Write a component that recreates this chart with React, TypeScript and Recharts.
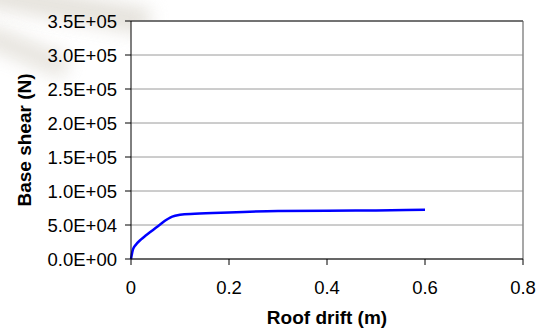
import { LineChart, Line, XAxis, YAxis, CartesianGrid, ReferenceLine, Label } from 'recharts';

// roof drift (m) vs base shear (N)
const drift = [0, 0.004, 0.01, 0.02, 0.03, 0.04, 0.05, 0.06, 0.07, 0.08, 0.09, 0.1, 0.13, 0.2, 0.3, 0.4, 0.5, 0.6];
const shear = [0, 14000, 21000, 28500, 34500, 40000, 45500, 51000, 56500, 61000, 63500, 65000, 66500, 68500, 70500, 71000, 71500, 72300];

const xTicks = [0, 0.2, 0.4, 0.6, 0.8];
const yTicks = [0, 50000, 100000, 150000, 200000, 250000, 300000, 350000];

const data = drift.map((d, i) => ({ drift: d, shear: shear[i] }));

const fmtSci = (v: number) => {
  if (v === 0) return '0.0E+00';
  const e = Math.floor(Math.log10(v));
  const m = v / Math.pow(10, e);
  return `${m.toFixed(1)}E+${String(e).padStart(2, '0')}`;
};

const font = '"Liberation Sans", Arial, sans-serif';

export default function App() {
  return (
    <div style={{ position: 'absolute', left: 0, top: 0, width: 543, height: 329, background: '#fff', overflow: 'hidden' }}>
      {/* faint watermark in the top-left corner */}
      <div style={{ position: 'absolute', left: -20, top: -6, width: 170, height: 26, background: '#dedad2', filter: 'blur(9px)', transform: 'rotate(10deg)', opacity: 0.8 }} />
      <div style={{ position: 'absolute', left: -20, top: 40, width: 90, height: 22, background: '#dedad2', filter: 'blur(9px)', transform: 'rotate(22deg)', opacity: 0.75 }} />
      <LineChart
        width={543}
        height={329}
        data={data}
        margin={{ top: 21, right: 20, left: 0, bottom: 0 }}
        style={{ position: 'absolute', left: 0, top: 0, fontFamily: font }}
      >
        <CartesianGrid vertical={false} stroke="#9a9a9a" fill="#fff" fillOpacity={1} />
        <ReferenceLine x={0.8} stroke="#8a8a8a" strokeWidth={1.5} />
        <ReferenceLine y={350000} stroke="#555" strokeWidth={1.5} />
        <XAxis
          type="number"
          dataKey="drift"
          domain={[0, 0.8]}
          ticks={xTicks}
          tickFormatter={(v: number) => String(v)}
          stroke="#000"
          tickSize={6}
          tickMargin={16}
          height={70}
          tick={{ fill: '#000', fontSize: 18.5 }}
        >
          <Label
            content={(props: any) => {
              const vb = props.viewBox;
              return (
                <text x={vb.x + vb.width / 2} y={324} textAnchor="middle" fontSize={19} fontWeight="bold" fill="#000">
                  Roof drift (m)
                </text>
              );
            }}
          />
        </XAxis>
        <YAxis
          type="number"
          domain={[0, 350000]}
          ticks={yTicks}
          tickFormatter={fmtSci}
          stroke="#000"
          tickSize={6}
          tickMargin={8}
          width={131}
          tick={{ fill: '#000', fontSize: 18.5 }}
          interval={0}
        >
          <Label
            content={(props: any) => {
              const vb = props.viewBox;
              const cy = vb.y + vb.height / 2;
              return (
                <text x={31} y={cy} transform={`rotate(-90 31 ${cy})`} textAnchor="middle" fontSize={19} fontWeight="bold" fill="#000">
                  Base shear (N)
                </text>
              );
            }}
          />
        </YAxis>
        <Line
          type="monotone"
          dataKey="shear"
          stroke="#0000ff"
          strokeWidth={2.5}
          dot={false}
          isAnimationActive={false}
        />
      </LineChart>
    </div>
  );
}
